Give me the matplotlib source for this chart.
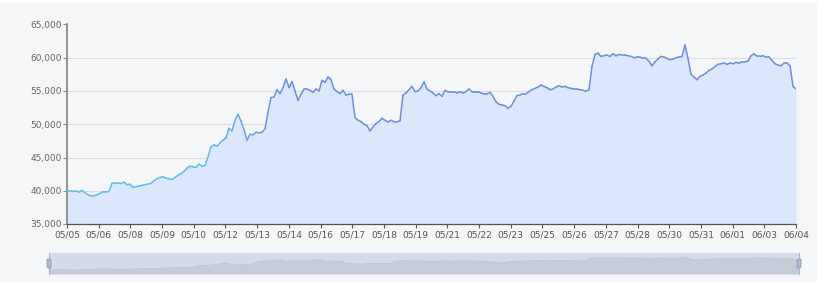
import numpy as np
import matplotlib
matplotlib.use("Agg")
import matplotlib.pyplot as plt
from matplotlib.collections import LineCollection
from matplotlib.patches import Rectangle, FancyBboxPatch
from matplotlib.colors import to_rgb
from matplotlib.ticker import FuncFormatter

# ---- data (price series, sampled evenly from 05/05 to 06/04) ----
values = [
    40000, 40000, 39900, 39950, 39800, 40050, 39700, 39400, 39200, 39250,
    39400, 39600, 39850, 39800, 39900, 41100, 41100, 41150, 41100, 41300,
    40900, 41000, 40500, 40600, 40700, 40800, 40900, 41000, 41100, 41500,
    41800, 42000, 42100, 41900, 41800, 41700, 42000, 42300, 42600, 42900,
    43400, 43700, 43600, 43500, 44000, 43700, 43800, 45100, 46600, 46900,
    46700, 47200, 47600, 48000, 49400, 49000, 50600, 51500, 50500, 49200,
    47600, 48500, 48400, 48800, 48700, 48800, 49300, 51800, 54000, 54100,
    55200, 54600, 55500, 56800, 55500, 56400, 55000, 53600, 54500, 55300,
    55300, 55100, 54800, 55300, 55000, 56600, 56300, 57100, 56700, 55300,
    54900, 54600, 55100, 54400, 54500, 54500, 51000, 50600, 50400, 50000,
    49800, 49000, 49600, 50100, 50400, 50900, 50600, 50350, 50600, 50400,
    50400, 50500, 54400, 54700, 55200, 55700, 54900, 55000, 55500, 56400,
    55300, 55000, 54700, 54300, 54600, 54200, 55100, 54900, 54900, 54900,
    54700, 54900, 54700, 54900, 55300, 54900, 54900, 54900, 54700, 54600,
    54600, 54800, 54200, 53400, 53000, 52900, 52800, 52400, 52700, 53500,
    54300, 54400, 54600, 54600, 54900, 55200, 55400, 55600, 55900, 55700,
    55500, 55200, 55300, 55600, 55800, 55600, 55700, 55500, 55400, 55300,
    55300, 55200, 55100, 54950, 55200, 58700, 60500, 60700, 60200, 60300,
    60400, 60200, 60600, 60300, 60500, 60400, 60400, 60300, 60200, 60000,
    60100, 60100, 59900, 59900, 59500, 58800, 59400, 59800, 60200, 60100,
    59900, 59700, 59800, 60000, 60100, 60200, 61900, 59900, 57500, 57100,
    56700, 57200, 57400, 57700, 58100, 58300, 58700, 59000, 59100, 59200,
    59000, 59200, 59100, 59300, 59200, 59400, 59400, 59500, 60300, 60600,
    60200, 60200, 60300, 60100, 60100, 59600, 59100, 58900, 58800, 59200,
    59200, 58800, 55700, 55300,
]
tick_labels = ["05/05", "05/06", "05/08", "05/09", "05/10", "05/12", "05/13",
               "05/14", "05/16", "05/17", "05/18", "05/19", "05/21", "05/22",
               "05/23", "05/25", "05/26", "05/27", "05/28", "05/30", "05/31",
               "06/01", "06/03", "06/04"]
y_ticks = [35000, 40000, 45000, 50000, 55000, 60000, 65000]

W, H = 831, 283
fig = plt.figure(figsize=(W / 100, H / 100), dpi=100)
fig.patch.set_facecolor("white")


def fx(px):
    return px / W


def fy(py):
    return 1 - py / H


# background panel as an axes at the very back
bg = fig.add_axes([0, fy(282), fx(817), fy(3) - fy(282)], zorder=-10)
bg.set_facecolor("#f5f6f8")
bg.set_xticks([])
bg.set_yticks([])
for s in bg.spines.values():
    s.set_visible(False)

ax = fig.add_axes([fx(67), fy(224), fx(796) - fx(67), fy(24.5) - fy(224)], zorder=1)
ax.set_facecolor("none")

y = np.array(values, dtype=float)
x = np.arange(len(y))
n = len(y)

# area
ax.fill_between(x, y, 35000, color="#dbe8fb", lw=0, zorder=1)

# gradient line
pts = np.column_stack([x, y]).reshape(-1, 1, 2)
segs = np.concatenate([pts[:-1], pts[1:]], axis=1)
c0 = np.array(to_rgb("#62bdea"))
c1 = np.array(to_rgb("#6f8fd6"))
i0, i1 = 45, 72
t = np.clip((x[:-1] - i0) / (i1 - i0), 0, 1)
cols = c0[None, :] * (1 - t[:, None]) + c1[None, :] * t[:, None]
lc = LineCollection(segs, colors=cols, linewidths=1.1, zorder=3,
                    capstyle="round", joinstyle="round")
ax.add_collection(lc)

ax.set_xlim(0, n - 1)
ax.set_ylim(35000, 65000)
ax.set_yticks(y_ticks)
ax.yaxis.set_major_formatter(FuncFormatter(lambda v, p: f"{int(v):,}"))
tick_pos = [k * (n - 1) / (len(tick_labels) - 1) for k in range(len(tick_labels))]
ax.set_xticks(tick_pos)
ax.set_xticklabels(tick_labels)
ax.grid(axis="y", color="#dedede", lw=0.8, zorder=0)
ax.set_axisbelow(True)
for s in ["top", "right"]:
    ax.spines[s].set_visible(False)
ax.spines["left"].set_color("#8a8a8a")
ax.spines["left"].set_linewidth(1.3)
ax.spines["bottom"].set_color("#555555")
ax.spines["bottom"].set_linewidth(0.9)
ax.tick_params(axis="x", length=3, width=0.8, color="#555555",
               labelsize=6.5, labelcolor="#555555", pad=1.5)
ax.tick_params(axis="y", length=3, width=0.8, color="#8a8a8a",
               labelsize=6.5, labelcolor="#666666", pad=1)

# data-zoom slider
sl = fig.add_axes([fx(49), fy(274), fx(799) - fx(49), fy(253) - fy(274)], zorder=1)
sl.set_facecolor("#d6dce6")
vmin, vmax = y.min(), y.max()
rng = vmax - vmin
sl.set_xlim(0, n - 1)
sl.set_ylim(vmin - 0.3 * rng, vmax + 0.3 * rng)
sl.fill_between(x, y, vmin - 0.3 * rng, color="#c5ccd8", lw=0)
sl.plot(x, y, color="#bcc4d1", lw=0.6)
sl.set_xticks([])
sl.set_yticks([])
for s in sl.spines.values():
    s.set_visible(False)

# handles
for hx in [49, 799]:
    fig.add_artist(plt.Line2D([fx(hx), fx(hx)], [fy(274), fy(253)],
                              transform=fig.transFigure, color="#aab8cc", lw=0.8, zorder=4))
    fig.add_artist(FancyBboxPatch((fx(hx - 2), fy(268)), fx(4), fy(259) - fy(268),
                                  boxstyle="round,pad=0,rounding_size=0.002",
                                  transform=fig.transFigure, facecolor="#aab8cc",
                                  edgecolor="#8fa0b8", lw=0.6, zorder=5))

fig.savefig("out.png", dpi=100)
